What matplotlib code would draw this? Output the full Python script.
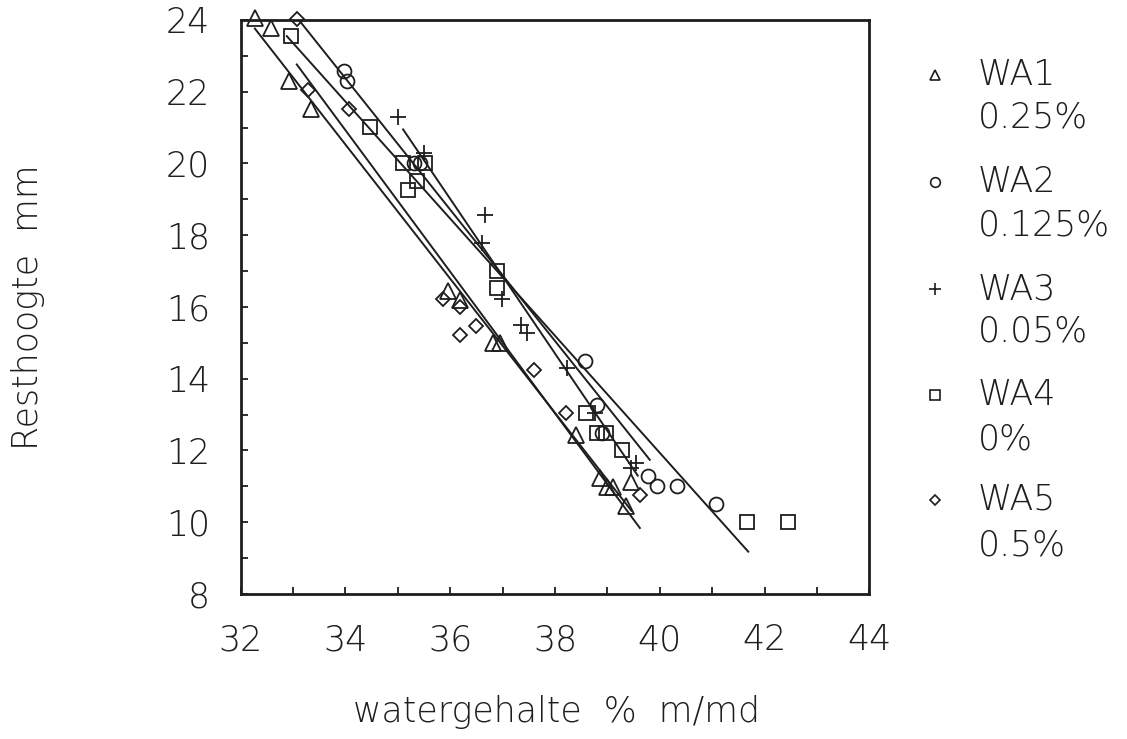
import matplotlib
matplotlib.use("Agg")
import matplotlib.pyplot as plt
from matplotlib.lines import Line2D
import numpy as np

# ---- data ----
wa1_x = [32.27, 32.57, 32.93, 33.34, 35.96, 36.19, 36.82, 36.95, 38.41, 38.86, 39.00, 39.11, 39.36, 39.46]
wa1_y = [24.05, 23.78, 22.29, 21.52, 16.45, 16.20, 15.00, 15.00, 12.44, 11.23, 10.99, 10.99, 10.44, 11.13]

wa2_x = [33.98, 34.02, 35.30, 35.42, 38.57, 38.81, 38.89, 39.78, 39.94, 40.32, 41.07]
wa2_y = [22.57, 22.29, 20.00, 20.00, 14.50, 13.28, 12.48, 11.30, 11.02, 11.02, 10.50]

wa3_x = [35.01, 35.49, 36.66, 36.60, 36.98, 37.36, 37.46, 38.22, 38.76, 39.45, 39.55]
wa3_y = [21.29, 20.29, 18.55, 17.78, 16.22, 15.50, 15.27, 14.30, 13.04, 11.50, 11.65]

wa4_x = [32.96, 34.46, 35.10, 35.52, 35.36, 35.20, 36.90, 36.90, 38.60, 38.80, 38.97, 39.27, 41.66, 42.45]
wa4_y = [23.55, 21.03, 20.00, 20.00, 19.50, 19.27, 17.00, 16.53, 13.04, 12.48, 12.48, 12.02, 10.00, 10.00]

wa5_x = [33.07, 33.29, 34.07, 35.87, 36.19, 36.49, 36.19, 37.60, 38.21, 39.62]
wa5_y = [24.04, 22.06, 21.52, 16.22, 16.00, 15.48, 15.22, 14.25, 13.04, 10.76]

# fitted lines: start / end points (x, y)
fit_x = {"WA1": [32.27, 39.46], "WA2": [33.11, 39.81], "WA3": [35.10, 39.58],
         "WA4": [32.88, 41.69], "WA5": [33.07, 39.62]}
fit_y = {"WA1": [23.76, 10.32], "WA2": [24.00, 11.74], "WA3": [20.95, 11.30],
         "WA4": [23.55, 9.18], "WA5": [22.76, 9.84]}

series_names = ["WA1", "WA2", "WA3", "WA4", "WA5"]
series_pct = ["0.25%", "0.125%", "0.05%", "0%", "0.5%"]
markers = ["^", "o", "+", "s", "D"]
sizes = [11, 10, 12, 10.5, 7]

x_ticks = [32, 34, 36, 38, 40, 42, 44]
y_ticks = [8, 10, 12, 14, 16, 18, 20, 22, 24]

INK = "#1e1e1e"
plt.rcParams['font.family'] = ['DejaVu Sans']
plt.rcParams['font.weight'] = 'light'
FS = 25

fig = plt.figure(figsize=(11.27, 7.39), dpi=100)
ax = fig.add_axes([0.2136, 0.1962, 0.5577, 0.7768])

xs = [wa1_x, wa2_x, wa3_x, wa4_x, wa5_x]
ys = [wa1_y, wa2_y, wa3_y, wa4_y, wa5_y]
for name, x, y, m, s in zip(series_names, xs, ys, markers, sizes):
    ax.plot(x, y, linestyle="none", marker=m, markersize=s, markerfacecolor="none",
            markeredgecolor=INK, markeredgewidth=1.3, clip_on=False)
    ax.plot(fit_x[name], fit_y[name], color=INK, linewidth=1.4)

ax.set_xlim(32, 44)
ax.set_ylim(8, 24)
ax.set_xticks(x_ticks)
ax.set_yticks(y_ticks)
ax.set_xticks(np.arange(32, 45, 1), minor=True)
ax.set_yticks(np.arange(8, 25, 1), minor=True)
ax.tick_params(which="both", direction="in", length=5, width=1.3, top=False, right=False, colors=INK)
ax.tick_params(axis="y", which="major", labelsize=FS, pad=22)
ax.tick_params(axis="x", which="major", labelsize=FS, pad=21)
for sp in ax.spines.values():
    sp.set_linewidth(2.0)
    sp.set_color(INK)

fig.text(557 / 1127, 1 - 712 / 739, "watergehalte  %  m/md", fontsize=FS,
         ha="center", va="center", color=INK)
fig.text(28 / 1127, 1 - 307 / 739, "Resthoogte  mm", fontsize=FS, rotation=90,
         ha="center", va="center", color=INK)

# legend drawn as text
name_y = [75, 182, 289, 395, 500]
pct_y = [117, 225, 332, 440, 545]
leg_sizes = [7, 7, 9, 7, 5]
for i, (name, pct, m) in enumerate(zip(series_names, series_pct, markers)):
    yy = 1 - name_y[i] / 739
    fig.lines.append(Line2D([935 / 1127], [yy], transform=fig.transFigure,
                     marker=m, markersize=leg_sizes[i], markerfacecolor="none",
                     markeredgecolor=INK, markeredgewidth=1.2, linestyle="none"))
    fig.text(978 / 1127, yy, name, fontsize=FS, va="center", ha="left", color=INK)
    fig.text(978 / 1127, 1 - pct_y[i] / 739, pct, fontsize=FS, va="center", ha="left", color=INK)

fig.savefig("out.png", dpi=100)
